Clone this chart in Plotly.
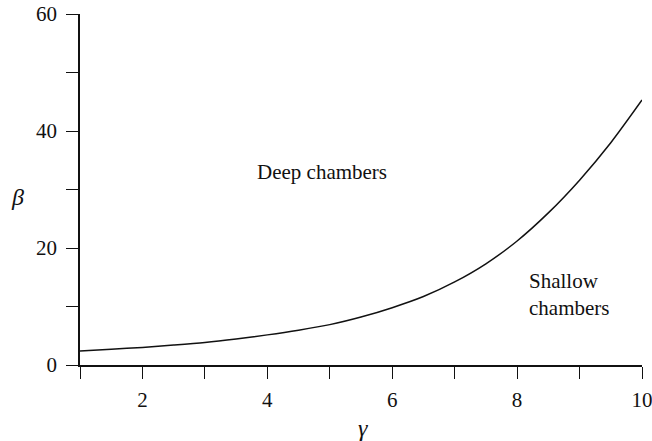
import plotly.graph_objects as go

# Boundary curve between deep and shallow chambers
gamma = [1.0, 1.5, 2.0, 2.5, 3.0, 3.5, 4.0, 4.5, 5.0, 5.5,
         6.0, 6.5, 7.0, 7.5, 8.0, 8.5, 9.0, 9.5, 10.0]
beta = [2.4, 2.7, 3.0, 3.4, 3.85, 4.45, 5.15, 5.95, 6.9, 8.2,
        9.8, 11.7, 14.2, 17.3, 21.2, 26.0, 31.6, 38.0, 45.3]

x_tickvals = [1, 2, 3, 4, 5, 6, 7, 8, 9, 10]
x_ticktext = ["", "2", "", "4", "", "6", "", "8", "", "10"]
y_tickvals = [0, 10, 20, 30, 40, 50, 60]
y_ticktext = ["0", "", "20", "", "40", "", "60"]

FONT = "Liberation Serif"
INK = "#111111"

fig = go.Figure()
fig.add_trace(go.Scatter(
    x=gamma, y=beta, mode="lines",
    line=dict(color=INK, width=1.5, shape="spline", smoothing=0.8),
    hoverinfo="skip", showlegend=False,
))

axis_common = dict(
    showgrid=False, zeroline=False, showline=True, linecolor=INK, linewidth=1.6,
    ticks="outside", ticklen=12, tickwidth=1.3, tickcolor=INK,
    tickfont=dict(family=FONT, size=21, color=INK), fixedrange=True,
    ticklabeloverflow="allow", automargin=False,
)

fig.update_layout(
    width=652, height=441,
    margin=dict(l=80, r=10, t=14, b=76),
    paper_bgcolor="white", plot_bgcolor="white",
    xaxis=dict(range=[1, 10], tickvals=x_tickvals, ticktext=x_ticktext,
               ticklabelstandoff=3, **axis_common),
    yaxis=dict(range=[0, 60], tickvals=y_tickvals, ticktext=y_ticktext,
               ticklabelstandoff=5, **axis_common),
    font=dict(family=FONT, color=INK),
    annotations=[
        dict(text="<i>β</i>", xref="paper", yref="paper", x=-0.112, y=0.48,
             xanchor="center", yanchor="middle",
             showarrow=False, font=dict(size=24, family=FONT, color=INK)),
        dict(text="<i>γ</i>", xref="paper", yref="paper", x=0.5036, y=-0.179,
             xanchor="center", yanchor="middle",
             showarrow=False, font=dict(size=24, family=FONT, color=INK)),
        dict(text="Deep chambers", x=4.88, y=33.0, showarrow=False,
             font=dict(size=21, family=FONT, color=INK)),
        dict(text="Shallow<br>chambers", x=8.16, y=12.1, xanchor="left", align="left",
             showarrow=False, font=dict(size=21, family=FONT, color=INK)),
    ],
)

fig.write_html("out.html")
